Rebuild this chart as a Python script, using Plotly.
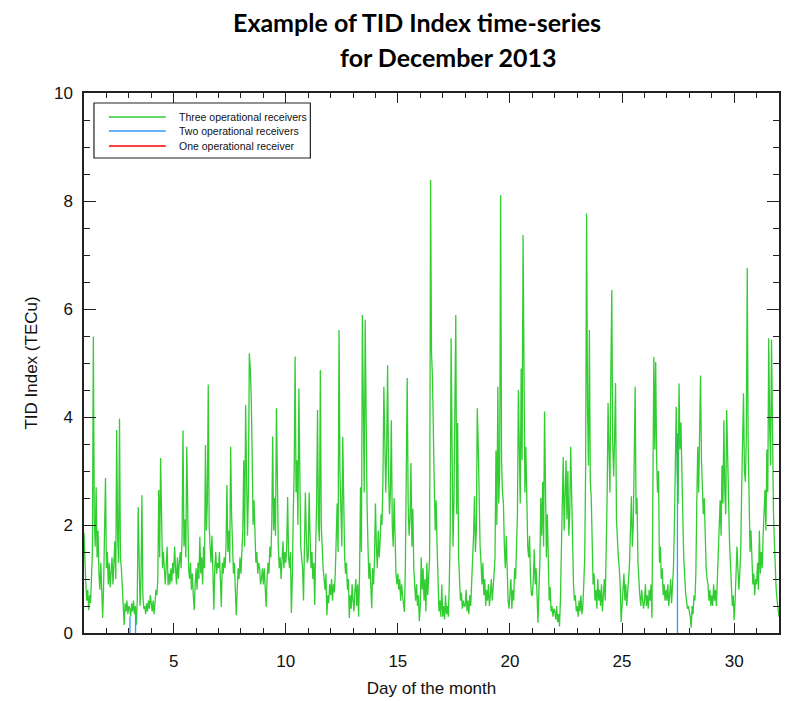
import numpy as np
import plotly.graph_objects as go

# ---- data: hourly TID index (TECu), three operational receivers ----
day01 = [1.85, 1.2, 0.9, 0.6, 0.8, 0.42, 0.7, 0.55, 1.2, 1.5, 5.49, 2.1, 1.6, 2.7, 1.4, 1.9, 1.1, 0.8, 1.3, 0.6, 0.28, 0.9, 1.6, 2.87]
day02 = [1.2, 1.5, 0.9, 1.3, 0.85, 1.1, 1.4, 0.9, 1.2, 1.7, 1.0, 3.76, 1.8, 1.3, 3.97, 1.4, 1.2, 0.8, 0.5, 0.15, 0.55, 0.4, 0.6, 0.35]
day03 = [0.5, 0.45, 0.3, 0.55, 0.4, 0.6, 0.35, 0.5, 0.15, 0.6, 2.33, 0.9, 0.5, 1.0, 2.55, 0.7, 0.45, 0.5, 0.35, 0.55, 0.4, 0.6, 0.45, 0.7]
day04 = [0.5, 0.4, 0.6, 0.35, 0.55, 0.8, 0.7, 1.0, 2.65, 1.4, 3.24, 1.7, 1.2, 1.5, 1.0, 0.9, 1.25, 1.6, 0.88, 1.1, 0.9, 1.2, 0.95, 1.3]
day05 = [1.1, 1.6, 1.2, 0.9, 1.4, 1.0, 1.3, 1.5, 1.2, 1.8, 3.75, 1.6, 2.1, 1.4, 3.45, 1.9, 1.2, 1.0, 1.3, 0.8, 1.1, 0.7, 0.42, 0.9]
day06 = [1.2, 0.8, 1.3, 1.0, 1.78, 1.1, 1.4, 0.9, 1.6, 1.2, 3.48, 1.9, 2.4, 4.6, 2.0, 1.6, 1.3, 1.8, 1.0, 0.43, 1.2, 1.5, 1.1, 1.3]
day07 = [1.2, 1.5, 1.0, 0.48, 1.3, 1.1, 1.4, 1.2, 1.6, 2.74, 1.5, 1.9, 1.3, 3.45, 2.2, 1.4, 1.1, 1.3, 0.9, 0.33, 0.8, 1.2, 1.0, 1.4]
day08 = [1.1, 1.4, 1.9, 3.2, 1.6, 4.22, 2.3, 1.8, 2.6, 5.18, 4.9, 4.4, 3.3, 2.0, 2.46, 1.7, 1.3, 1.5, 1.1, 1.3, 1.2, 0.9, 1.0, 1.2]
day09 = [0.9, 1.2, 0.8, 0.48, 1.0, 1.3, 1.1, 1.6, 1.4, 2.0, 3.64, 1.9, 2.5, 1.8, 4.16, 2.4, 1.6, 1.2, 1.4, 1.0, 1.3, 1.7, 1.2, 1.5]
day10 = [1.3, 1.6, 2.52, 1.4, 1.2, 1.5, 0.37, 1.0, 2.2, 3.0, 5.12, 2.6, 3.2, 2.0, 4.53, 2.1, 1.6, 1.4, 1.2, 0.6, 1.5, 2.6, 1.8, 1.3]
day11 = [1.4, 2.6, 1.8, 1.2, 1.5, 1.0, 1.3, 0.52, 1.6, 2.4, 4.13, 2.0, 1.7, 4.87, 2.0, 1.5, 1.2, 1.0, 0.8, 1.1, 0.33, 0.7, 0.55, 0.9]
day12 = [0.7, 1.0, 0.6, 0.9, 0.75, 1.1, 1.7, 2.4, 1.5, 5.61, 3.0, 2.2, 1.6, 3.63, 2.0, 1.4, 1.1, 1.3, 0.8, 1.0, 0.28, 0.7, 0.45, 0.9]
day13 = [0.6, 0.4, 0.8, 1.0, 0.5, 0.9, 0.3, 1.1, 2.7, 1.5, 5.89, 3.2, 2.6, 5.8, 3.8, 2.4, 1.6, 1.0, 1.3, 0.8, 0.46, 1.2, 0.9, 1.4]
day14 = [2.4, 1.6, 1.2, 1.9, 1.4, 1.7, 2.2, 2.0, 2.8, 4.56, 3.1, 2.6, 3.4, 4.96, 3.0, 2.2, 2.6, 3.94, 2.0, 1.6, 2.5, 1.4, 1.1, 0.9]
day15 = [1.1, 0.8, 1.0, 0.6, 0.9, 0.7, 0.5, 0.39, 1.2, 2.6, 4.72, 2.4, 1.8, 2.1, 3.15, 1.6, 2.3, 1.2, 0.8, 0.6, 0.9, 0.5, 0.7, 0.22]
day16 = [0.5, 1.4, 0.8, 1.2, 0.6, 1.0, 0.4, 1.3, 0.7, 1.0, 1.4, 8.39, 5.2, 4.75, 3.1, 2.7, 1.9, 2.46, 1.6, 1.1, 0.4, 0.6, 0.3, 0.9]
day17 = [0.3, 0.5, 0.25, 0.7, 0.35, 0.5, 0.3, 0.9, 1.8, 5.46, 3.0, 1.6, 2.4, 4.2, 5.89, 2.2, 3.89, 1.4, 0.9, 0.6, 0.75, 0.45, 0.6, 0.5]
day18 = [0.5, 0.8, 0.4, 0.6, 0.35, 0.7, 0.5, 0.9, 1.2, 1.8, 2.53, 1.5, 1.9, 4.16, 3.5, 2.0, 1.6, 1.3, 0.9, 1.3, 0.7, 1.0, 0.5, 0.8]
day19 = [0.6, 0.9, 0.5, 0.7, 1.0, 0.6, 0.8, 1.1, 1.4, 3.38, 2.0, 4.56, 2.4, 3.0, 8.11, 3.2, 2.6, 2.4, 1.6, 1.2, 1.8, 1.0, 0.6, 0.45]
day20 = [0.7, 1.0, 0.45, 0.8, 0.6, 1.2, 1.0, 1.5, 2.2, 4.5, 3.3, 2.4, 4.9, 3.2, 7.37, 3.8, 2.6, 3.45, 2.5, 1.6, 1.4, 1.8, 1.0, 0.7]
day21 = [0.7, 1.0, 1.55, 0.9, 1.2, 0.6, 0.19, 0.8, 1.3, 2.5, 1.8, 2.8, 1.6, 4.1, 2.2, 1.4, 2.2, 0.9, 0.6, 0.85, 0.4, 0.5, 0.3, 0.45]
day22 = [0.4, 0.25, 0.5, 0.2, 0.35, 0.12, 0.6, 1.5, 2.4, 3.26, 1.9, 2.6, 3.2, 2.1, 3.0, 1.8, 2.2, 3.45, 2.5, 1.4, 0.9, 0.6, 0.7, 0.4]
day23 = [0.5, 0.3, 0.6, 0.4, 0.7, 0.35, 0.5, 0.9, 1.4, 3.0, 7.77, 4.2, 3.1, 5.61, 2.8, 2.5, 1.3, 0.9, 1.1, 0.6, 0.8, 0.45, 1.0, 0.6]
day24 = [0.8, 0.5, 0.9, 0.4, 0.7, 1.0, 0.6, 1.4, 2.5, 4.26, 3.0, 2.6, 4.8, 6.35, 3.5, 2.9, 3.6, 4.63, 2.1, 1.6, 1.4, 1.2, 0.9, 0.2]
day25 = [0.5, 0.8, 1.1, 0.6, 0.9, 0.5, 0.7, 1.0, 1.3, 1.8, 2.53, 1.6, 2.0, 3.2, 4.56, 2.2, 2.5, 1.3, 0.9, 0.7, 0.5, 0.8, 0.6, 0.45]
day26 = [0.6, 0.9, 0.5, 0.7, 0.45, 0.8, 0.6, 0.9, 0.28, 2.1, 5.11, 3.4, 5.02, 3.2, 2.6, 3.0, 1.3, 1.6, 1.0, 1.2, 0.7, 0.9, 0.6, 0.8]
day27 = [0.6, 0.9, 0.5, 0.7, 1.0, 0.55, 0.8, 1.2, 2.0, 3.2, 4.19, 3.0, 2.4, 4.62, 3.4, 3.9, 2.5, 2.2, 1.4, 1.0, 0.75, 0.6, 0.45, 0.5]
day28 = [0.4, 0.3, 0.1, 0.5, 0.35, 0.7, 0.6, 1.1, 2.4, 3.45, 2.6, 3.8, 4.77, 3.2, 2.7, 2.2, 2.5, 1.7, 1.2, 1.0, 0.9, 0.6, 0.8, 0.5]
day29 = [0.7, 0.5, 0.9, 0.6, 0.8, 0.5, 1.0, 1.4, 1.9, 2.46, 1.8, 3.1, 2.4, 3.94, 2.6, 2.2, 4.13, 3.2, 2.3, 1.7, 1.3, 0.9, 0.5, 0.7]
day30 = [0.24, 0.6, 1.0, 1.6, 1.2, 0.8, 1.1, 1.5, 2.6, 3.4, 4.44, 3.0, 2.8, 3.6, 6.76, 3.5, 2.5, 1.5, 1.9, 1.2, 0.9, 1.1, 0.7, 1.0]
day31 = [0.9, 1.3, 0.8, 1.9, 1.1, 1.5, 1.2, 1.8, 2.2, 2.65, 1.9, 3.4, 2.6, 5.46, 3.8, 3.1, 5.43, 3.2, 2.3, 1.7, 1.1, 0.8, 0.6, 0.45]
end_value = 0.3

# two operational receivers: short vertical segments (day, top value)
two_rx_days = [3.05, 3.3, 27.47]
two_rx_tops = [0.3, 0.35, 3.7]

x_ticks = [5, 10, 15, 20, 25, 30]
y_ticks = [0, 2, 4, 6, 8, 10]

series_names = ["Three operational receivers", "Two operational receivers", "One operational receiver"]
GREEN = "rgb(50,205,50)"
BLUE = "rgb(51,153,255)"
RED = "rgb(255,0,0)"
series_colors = [GREEN, BLUE, RED]

days = [day01, day02, day03, day04, day05, day06, day07, day08, day09, day10,
        day11, day12, day13, day14, day15, day16, day17, day18, day19, day20,
        day21, day22, day23, day24, day25, day26, day27, day28, day29, day30, day31]

t, v = [], []
for i, vals in enumerate(days):
    d = i + 1
    n = len(vals)
    for h, val in enumerate(vals):
        t.append(d + h / n)
        v.append(val)
t.append(32.0)
v.append(end_value)

bx, by = [], []
for d, top in zip(two_rx_days, two_rx_tops):
    bx += [d, d, None]
    by += [top, 0, None]

fig = go.Figure()
fig.add_trace(go.Scatter(x=t, y=v, mode="lines", name=series_names[0],
                         line=dict(color=GREEN, width=1.3), showlegend=False))
fig.add_trace(go.Scatter(x=bx, y=by, mode="lines", name=series_names[1],
                         line=dict(color=BLUE, width=1.3), showlegend=False))
fig.add_trace(go.Scatter(x=[None], y=[None], mode="lines", name=series_names[2],
                         line=dict(color=RED, width=1.3), showlegend=False))

FONT = "Liberation Sans, Arial"
axis_common = dict(showline=True, linecolor="#222", linewidth=1.5, mirror="ticks",
                   ticks="inside", tickcolor="#222", showgrid=False, zeroline=False,
                   tickfont=dict(family=FONT, size=17, color="#111"))

fig.update_xaxes(range=[1, 32], tickvals=x_ticks, ticklen=10, tickwidth=1.3,
                 ticklabelstandoff=12,
                 minor=dict(dtick=1, ticklen=5, ticks="inside", tickcolor="#222", tickwidth=1.2),
                 title=dict(text="Day of the month", font=dict(family=FONT, size=17, color="#111"),
                            standoff=12),
                 **axis_common)
fig.update_yaxes(range=[0, 10], tickvals=y_ticks, ticklen=12, tickwidth=1.3,
                 ticklabelstandoff=6,
                 minor=dict(dtick=0.5, ticklen=6, ticks="inside", tickcolor="#222", tickwidth=1.2),
                 title=dict(text="TID Index (TECu)", font=dict(family=FONT, size=17, color="#111"),
                            standoff=12),
                 **axis_common)

# legend drawn as a boxed key in the upper-left corner of the plot
px = lambda x: (x - 84) / 697.0
py = lambda y: (633 - y) / 540.0
shapes = [dict(type="rect", xref="paper", yref="paper", x0=px(94), x1=px(311), y0=py(158), y1=py(103),
               line=dict(color="#222", width=1.2), fillcolor="white", layer="above")]
annotations = []
row_y = [117, 131, 146]
for name, col, ry in zip(series_names, series_colors, row_y):
    shapes.append(dict(type="line", xref="paper", yref="paper", x0=px(109), x1=px(166),
                       y0=py(ry), y1=py(ry), line=dict(color=col, width=1.5), layer="above"))
    annotations.append(dict(text=name, xref="paper", yref="paper", x=px(177), y=py(ry),
                            xanchor="left", yanchor="middle", showarrow=False,
                            font=dict(family=FONT, size=10.5, color="#111")))

annotations += [
    dict(text="<b>Example of TID Index time-series</b>", xref="paper", yref="paper",
         x=0.479, y=py(22), xanchor="center", yanchor="middle", showarrow=False,
         font=dict(family="Lato, Open Sans", size=25, color="black")),
    dict(text="<b>for December 2013</b>", xref="paper", yref="paper",
         x=0.525, y=py(57), xanchor="center", yanchor="middle", showarrow=False,
         font=dict(family="Lato, Open Sans", size=25, color="black")),
]

fig.update_layout(
    width=787, height=701,
    margin=dict(l=84, r=6, t=93, b=68),
    paper_bgcolor="white", plot_bgcolor="white",
    showlegend=False,
    shapes=shapes,
    annotations=annotations,
)

fig.write_html("out.html")
